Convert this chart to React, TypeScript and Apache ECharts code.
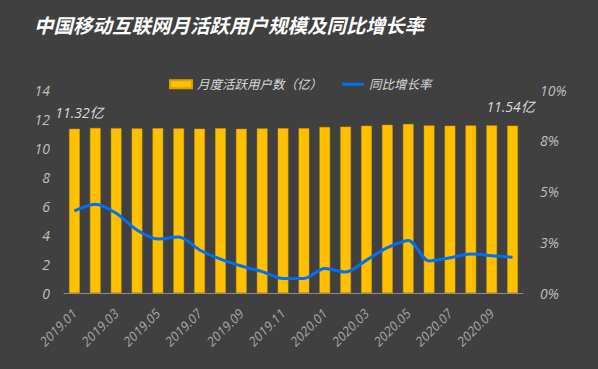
import React, { useEffect, useRef } from "react";
import * as echarts from "echarts";

const months = [
  "2019.01", "2019.02", "2019.03", "2019.04", "2019.05", "2019.06",
  "2019.07", "2019.08", "2019.09", "2019.10", "2019.11", "2019.12",
  "2020.01", "2020.02", "2020.03", "2020.04", "2020.05", "2020.06",
  "2020.07", "2020.08", "2020.09", "2020.10",
];
const mau = [
  11.32, 11.38, 11.37, 11.35, 11.36, 11.35, 11.33, 11.36, 11.32, 11.35, 11.36,
  11.37, 11.45, 11.47, 11.53, 11.6, 11.65, 11.55, 11.53, 11.55, 11.56, 11.54,
];
const growth = [
  0.0404, 0.0437, 0.0393, 0.031, 0.0266, 0.0276, 0.0212, 0.0167, 0.0133, 0.0105,
  0.0071, 0.0072, 0.0121, 0.0103, 0.0162, 0.0223, 0.0259, 0.0158, 0.0174, 0.0192,
  0.0184, 0.0176,
];
const labeledIdx = [0, 21];
const titleText = "中国移动互联网月活跃用户规模及同比增长率";
const barName = "月度活跃用户数（亿）";
const lineName = "同比增长率";

const FONT = "'Open Sans', 'Noto Sans CJK SC', sans-serif";

export default function App() {
  const ref = useRef<HTMLDivElement>(null);
  useEffect(() => {
    document.body.style.margin = "0";
    const chart = echarts.init(ref.current!, null, { renderer: "svg" });
    chart.setOption({
      animation: false,
      backgroundColor: "#404040",
      textStyle: { fontFamily: FONT },
      title: {
        text: titleText,
        left: 29,
        top: 11,
        textStyle: {
          color: "#ffffff",
          fontSize: 19.5,
          fontWeight: "bold",
          fontStyle: "italic",
          fontFamily: FONT,
        },
      },
      legend: {
        top: 73,
        left: 164,
        itemWidth: 22,
        itemHeight: 8,
        itemGap: 20,
        textStyle: { color: "#d9d9d9", fontSize: 12.5, fontStyle: "italic" },
        data: [
          { name: barName, icon: "rect" },
          { name: lineName, icon: "path://M0,0 L22,0 L22,3 L0,3 Z" },
        ],
      },
      grid: { left: 64, right: 75, top: 90, bottom: 76, outerBoundsMode: "none" },
      xAxis: {
        type: "category",
        data: months,
        axisLine: { lineStyle: { color: "#8c8c8c", width: 1 } },
        axisTick: { show: false },
        axisLabel: {
          interval: 1,
          rotate: 45,
          hideOverlap: false,
          color: "#a6a6a6",
          fontSize: 13,
          fontStyle: "italic",
          margin: 18,
        },
      },
      yAxis: [
        {
          type: "value",
          min: 0,
          max: 14,
          interval: 2,
          splitLine: { show: false },
          axisLine: { show: false },
          axisTick: { show: false },
          axisLabel: { color: "#bfbfbf", fontSize: 14, fontStyle: "italic", margin: 14 },
        },
        {
          type: "value",
          min: 0,
          max: 0.1,
          interval: 0.025,
          splitLine: { show: false },
          axisLine: { show: false },
          axisTick: { show: false },
          axisLabel: {
            color: "#bfbfbf",
            fontSize: 14,
            fontStyle: "italic",
            margin: 17,
            formatter: (v: number) => (Math.round(v * 1000) / 10).toFixed(0) + "%",
          },
        },
      ],
      series: [
        {
          name: barName,
          type: "bar",
          barWidth: "51%",
          itemStyle: { color: "#FFC000", borderColor: "#d9a200", borderWidth: 0.5 },
          data: mau.map((v, i) =>
            labeledIdx.includes(i)
              ? {
                  value: v,
                  label: {
                    show: true,
                    position: "top",
                    distance: 9,
                    offset: i === 0 ? [5, 0] : [-2, -3],
                    color: "#d9d9d9",
                    fontSize: 14,
                    fontStyle: "italic",
                    formatter: (p: any) => p.value.toFixed(2) + "亿",
                  },
                }
              : v
          ),
        },
        {
          name: lineName,
          type: "line",
          yAxisIndex: 1,
          smooth: 0.3,
          symbol: "none",
          lineStyle: { color: "#0070f0", width: 3 },
          itemStyle: { color: "#0070f0" },
          data: growth,
        },
      ],
    });
    return () => chart.dispose();
  }, []);
  return <div ref={ref} style={{ width: 598, height: 369 }} />;
}
